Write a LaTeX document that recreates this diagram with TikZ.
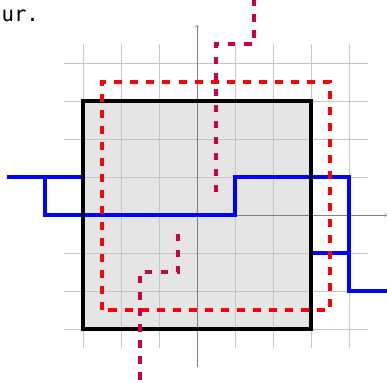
\documentclass[tikz,border=0pt]{standalone}
\usepackage{amsmath}
\usepackage{amssymb}
\usepackage{fontspec}
\setmonofont{DejaVu Sans Mono}
\definecolor{crim}{RGB}{204,0,68}

\begin{document}
\begin{tikzpicture}[
	bord/.style={black,line width=3pt},
	reddash/.style={red,line width=2.6pt,dash pattern=on 6pt off 6pt},
	crimdash/.style={crim,line width=2.6pt,dash pattern=on 5.5pt off 6.5pt},
	bluepath/.style={blue,line width=2.6pt}]
\useasboundingbox (-5.184,-4.395) rectangle (5.0,5.658);
\fill[gray!20] (-3,-3) rectangle (3,3);
\draw[gray!45,thin] (-3.5,-3.5) grid (4.5,4.5);
\draw[gray,->] (-4,0) -- (5,0);
\draw[gray,->] (0,-4) -- (0,5);
\draw[bluepath] (-5,1) -- (-3,1);
\draw[bluepath] (-4,1) -- (-4,0) -- (1,0) -- (1,1) -- (4,1) -- (4,-2) -- (5,-2);
\draw[bluepath] (3,-1) -- (4,-1);
\draw[bord] (-3,-3) rectangle (3,3);
\draw[reddash] (-2.5,-2.5) rectangle (3.5,3.5);
\draw[crimdash] (1.5,5.7) -- (1.5,4.5) -- (0.5,4.5) -- (0.5,0.5);
\draw[crimdash] (-0.5,-0.5) -- (-0.5,-1.5) -- (-1.5,-1.5) -- (-1.5,-4.5);
\node[anchor=base west,font=\ttfamily\fontsize{15.5}{18}\selectfont,inner sep=0pt] (txt) at (-5.15,5.09) {ur.};

\end{tikzpicture}
\end{document}
